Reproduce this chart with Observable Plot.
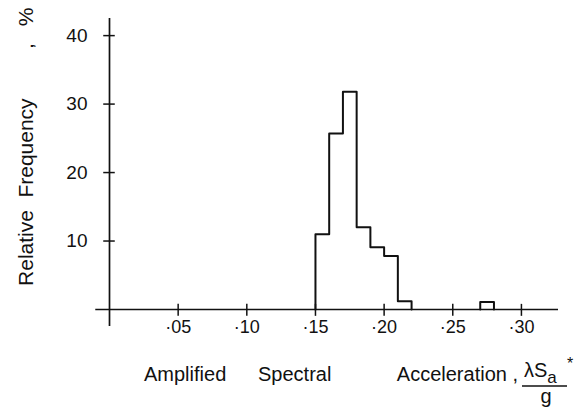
<!DOCTYPE html>
<html><head><meta charset="utf-8">
<script src="https://cdn.jsdelivr.net/npm/d3@7"></script>
<script src="https://cdn.jsdelivr.net/npm/@observablehq/plot@0.6"></script>
<style>body{margin:0;background:#fff}</style>
</head><body><div id="chart"></div>
<script>
const binStarts = [0.15, 0.16, 0.17, 0.18, 0.19, 0.20, 0.21, 0.27];
const binWidth = 0.01;
const relFreq = [11, 25.7, 31.8, 12.0, 9.1, 7.8, 1.2, 1.1];
const xTicks = [0.05, 0.10, 0.15, 0.20, 0.25, 0.30];
const xTickLabels = ["·05", "·10", "·15", "·20", "·25", "·30"];
const yTicks = [10, 20, 30, 40];
const yTickLabels = ["10", "20", "30", "40"];

// outline of the histogram (groups of contiguous bins)
const outline = [];
let g = 0;
for (let i = 0; i < binStarts.length; i++) {
  const s = binStarts[i];
  const contiguous = i > 0 && Math.abs(binStarts[i - 1] + binWidth - s) < 1e-9;
  if (!contiguous) {
    if (i > 0) { outline.push({x: binStarts[i - 1] + binWidth, y: 0, g}); g++; }
    outline.push({x: s, y: 0, g});
  }
  outline.push({x: s, y: relFreq[i], g});
}
outline.push({x: binStarts[binStarts.length - 1] + binWidth, y: 0, g});

const ink = "#111";
const font = "'Liberation Sans', Arial, sans-serif";

const svg = Plot.plot({
  width: 579, height: 410,
  marginLeft: 109, marginRight: 21, marginTop: 18, marginBottom: 101,
  x: {domain: [0, 0.327], axis: null},
  y: {domain: [0, 42.5], axis: null},
  style: {fontFamily: font, fontSize: "19px", background: "#fff", color: ink},
  marks: [
    Plot.ruleY([0], {x1: -0.01, x2: 0.327, stroke: ink, strokeWidth: 1.7}),
    Plot.ruleX([0], {y1: -2.5, y2: 42.5, stroke: ink, strokeWidth: 1.7}),
    Plot.ruleY(yTicks, {y: d => d, x1: -0.0042, x2: 0.0042, stroke: ink, strokeWidth: 1.5}),
    Plot.ruleX(xTicks, {x: d => d, y1: -1, y2: 0.75, stroke: ink, strokeWidth: 1.5}),
    Plot.text(xTicks, {x: d => d, y: 0, text: (d, i) => xTickLabels[i], dy: 18, fontSize: 18, fill: ink}),
    Plot.text(yTicks, {x: 0, y: d => d, text: (d, i) => yTickLabels[i], dx: -22, textAnchor: "end", fontSize: 19, fill: ink}),
    Plot.line(outline, {x: "x", y: "y", z: "g", curve: "step-after", stroke: ink, strokeWidth: 2})
  ]
});

const s = d3.select(svg);
function txt(x, y, t, size, anchor) {
  return s.append("text").attr("x", x).attr("y", y).attr("font-size", size)
    .attr("font-family", font).attr("fill", ink).attr("text-anchor", anchor || "start").text(t);
}
// y-axis title pieces (rotated)
const yTitle = [["Relative", 248], ["Frequency", 148], [",", 46], ["%", 17]];
for (const [t, yy] of yTitle) {
  s.append("text").attr("transform", `translate(33,${yy}) rotate(-90)`)
    .attr("text-anchor", "middle").attr("font-size", 21).attr("font-family", font)
    .attr("fill", ink).text(t);
}
// x-axis title words
txt(144, 381, "Amplified", 20);
txt(258, 381, "Spectral", 20);
txt(518, 381, "Acceleration ,", 20, "end");
// fraction λS*a / g
const num = s.append("text").attr("x", 524).attr("y", 377).attr("font-size", 20)
  .attr("font-family", font).attr("fill", ink).attr("text-anchor", "start");
num.append("tspan").text("λS");
num.append("tspan").attr("font-size", 17).attr("dy", 6).text("a");
txt(567, 369, "*", 16);
s.append("line").attr("x1", 522).attr("x2", 567).attr("y1", 386).attr("y2", 386)
  .attr("stroke", ink).attr("stroke-width", 1.6);
txt(546, 403, "g", 20, "middle");

document.getElementById("chart").appendChild(svg);
</script>
</body></html>
